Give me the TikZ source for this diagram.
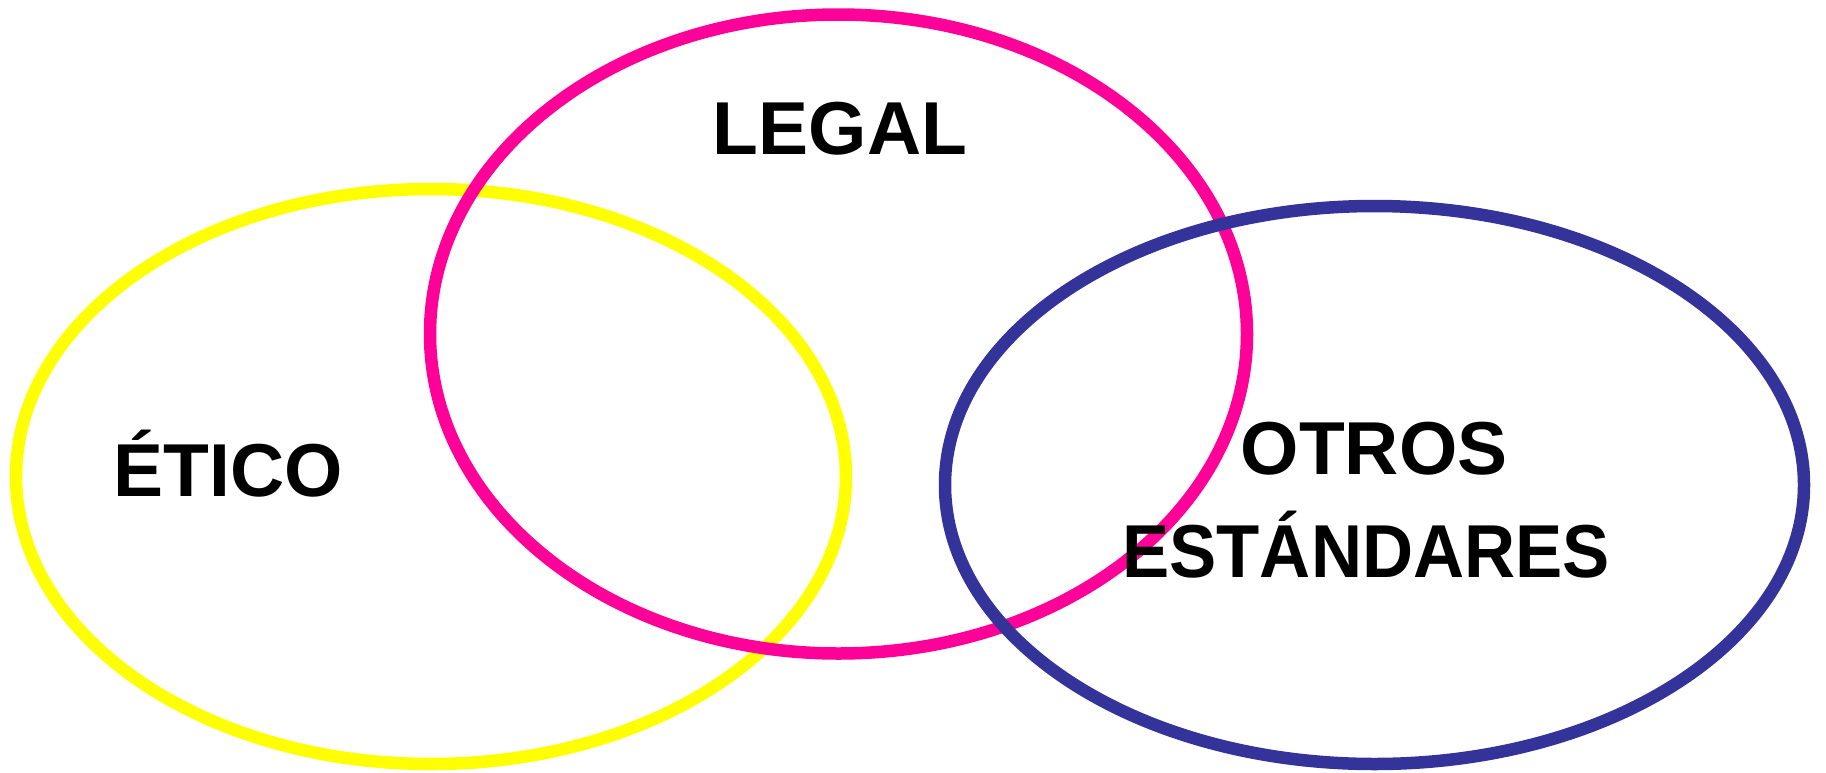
\documentclass[tikz,border=0pt]{standalone}
\usepackage{fontspec}
\setmainfont{Liberation Sans}
\definecolor{pinkc}{HTML}{FF0099}
\definecolor{yellowc}{HTML}{FFFF00}
\definecolor{bluec}{HTML}{333399}
\begin{document}
\begin{tikzpicture}[x=1pt,y=-1pt,
  ring/.style={line width=12.5pt},
  lbl/.style={font=\fontsize{75}{103}\selectfont\bfseries, inner sep=0pt, anchor=base}]
\useasboundingbox[fill=white] (0,0) rectangle (1826,772);
\coordinate (cy) at (431,476.5);
\coordinate (cp) at (838.5,334);
\coordinate (cb) at (1374.5,485);
\draw[ring, yellowc] (cy) ellipse [x radius=415, y radius=287.5];
\draw[ring, pinkc] (cp) ellipse [x radius=408.5, y radius=319.5];
\draw[ring, bluec] (cb) ellipse [x radius=429.5, y radius=279];
\node[lbl] (legal) at (840,154) {LEGAL};
\node[lbl] (etico) at (228,496) {ÉTICO};
\node[lbl] (otros) at (1374,474) {OTROS};
\node[lbl, xscale=0.943] (estandares) at (1366,577) {ESTÁNDARES};
\end{tikzpicture}
\end{document}
